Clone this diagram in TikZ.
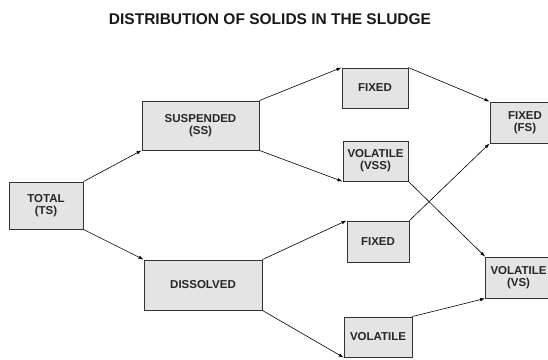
\documentclass[tikz,border=0pt]{standalone}
\usepackage{fontspec}
\setmainfont{Liberation Sans}
\usetikzlibrary{arrows.meta,positioning}
\definecolor{boxfill}{RGB}{228,228,228}
\definecolor{boxline}{RGB}{50,50,50}

\begin{document}
\begin{tikzpicture}[
    x=1pt, y=-1pt,
    block/.style={rectangle, draw=boxline, line width=0.9pt, fill=boxfill, align=center, inner sep=1pt,
        font=\fontsize{11.5}{12}\selectfont\bfseries, text=black!85},
    arrow/.style={line width=0.6pt, -{Latex[length=5pt,width=3.5pt]}}
]
    \useasboundingbox (0,0) rectangle (548,359);
    \clip (0,0) rectangle (548,359);

    \node[font=\fontsize{15.5}{18}\selectfont\bfseries, text=black!90] (title) at (270,19) {DISTRIBUTION OF SOLIDS IN THE SLUDGE};

    \node[block, minimum width=74pt, minimum height=47pt] (total) at (46,205.5) {TOTAL\\(TS)};
    \node[block, minimum width=117pt, minimum height=49pt] (susp) at (200.5,125.5) {SUSPENDED\\(SS)};
    \node[block, minimum width=118pt, minimum height=50pt] (diss) at (203,285) {DISSOLVED};

    \node[block, minimum width=66pt, minimum height=40pt] (fixss) at (375,88) {FIXED};
    \node[block, minimum width=65pt, minimum height=40pt] (volss) at (375.5,161) {VOLATILE\\(VSS)};
    \node[block, minimum width=62pt, minimum height=41pt] (fixds) at (378,241.5) {FIXED};
    \node[block, minimum width=68pt, minimum height=40pt] (volds) at (378,337) {VOLATILE};

    \node[block, minimum width=70pt, minimum height=41pt] (fs) at (525,122.5) {FIXED\\(FS)};
    \node[block, minimum width=66pt, minimum height=41pt] (vs) at (518.5,277.5) {VOLATILE\\(VS)};

    \draw[arrow] (total.north east) -- (susp.south west);
    \draw[arrow] (total.south east) -- (diss.north west);
    \draw[arrow] (susp.north east) -- (fixss.north west);
    \draw[arrow] (susp.south east) -- (volss.south west);
    \draw[arrow] (diss.north east) -- (fixds.north west);
    \draw[arrow] (diss.south east) -- (volds.south west);
    \draw[arrow] (fixss.north east) -- (fs.north west);
    \draw[arrow] (fixds.north east) -- (fs.south west);
    \draw[arrow] (volss.south east) -- (vs.north west);
    \draw[arrow] (volds.north east) -- (vs.south west);
\end{tikzpicture}
\end{document}
